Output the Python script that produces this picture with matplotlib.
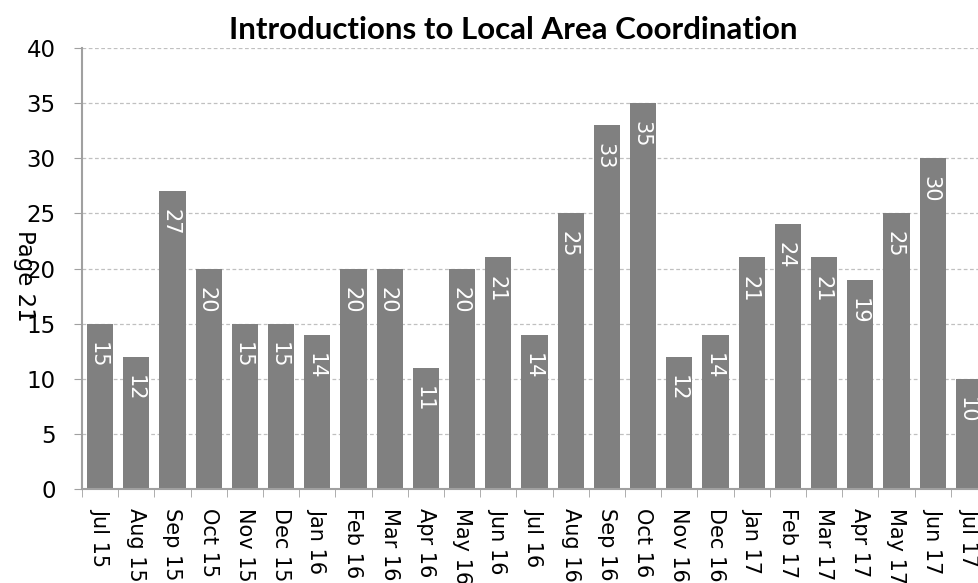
import matplotlib
matplotlib.use("Agg")
import matplotlib.pyplot as plt
import numpy as np

categories = ["Jul 15", "Aug 15", "Sep 15", "Oct 15", "Nov 15", "Dec 15", "Jan 16",
              "Feb 16", "Mar 16", "Apr 16", "May 16", "Jun 16", "Jul 16", "Aug 16",
              "Sep 16", "Oct 16", "Nov 16", "Dec 16", "Jan 17", "Feb 17", "Mar 17",
              "Apr 17", "May 17", "Jun 17", "Jul 17"]
values = [15, 12, 27, 20, 15, 15, 14, 20, 20, 11, 20, 21, 14, 25, 33, 35, 12, 14,
          21, 24, 21, 19, 25, 30, 10]
yticks = [0, 5, 10, 15, 20, 25, 30, 35, 40]
title = "Introductions to Local Area Coordination"

fig = plt.figure(figsize=(9.79, 5.83), dpi=100)
W, H = 979, 583
left, right, bottom, top = 82, 987, 489, 48
ax = fig.add_axes([left / W, 1 - bottom / H, (right - left) / W, (bottom - top) / H])

x = np.arange(len(categories))
ax.bar(x, values, width=0.72, color="#808080", zorder=2)
ax.set_xlim(-0.5, len(categories) - 0.5)
ax.set_ylim(0, 40)
ax.set_yticks(yticks)
ax.tick_params(axis="y", length=6, color="#a0a0a0", direction="out", pad=13)
ax.set_yticklabels([str(t) for t in yticks], family="DejaVu Sans", fontsize=16.5)

ax.set_xticks(x)
ax.set_xticklabels(categories, rotation=-90, fontsize=15, family="DejaVu Sans",
                   va="top", ha="center")
ax.tick_params(axis="x", length=0, pad=14)
ax.set_xticks(np.arange(len(categories) + 1) - 0.5, minor=True)
ax.tick_params(axis="x", which="minor", length=6, color="#a0a0a0", direction="out")

ax.yaxis.grid(True, linestyle=(0, (3, 2)), color="#c0c0c0", linewidth=0.9, zorder=0)
ax.set_axisbelow(True)
for s in ["top", "right"]:
    ax.spines[s].set_visible(False)
ax.spines["left"].set_color("#a0a0a0")
ax.spines["left"].set_linewidth(1.5)
ax.spines["bottom"].set_color("#a0a0a0")
ax.spines["bottom"].set_linewidth(1.5)

for xi, v in zip(x, values):
    ax.annotate(str(v), (xi, v), xytext=(-1.5, -13), textcoords="offset points",
                rotation=-90, ha="center", va="top", color="white", fontsize=15,
                family="DejaVu Sans", zorder=3)

fig.text(513 / W, 1 - 39 / H, title, ha="center", va="baseline", fontsize=22.5,
         fontweight="bold", family="Lato")
fig.text(24 / W, 1 - 276 / H, "Page 21", rotation=-90, ha="center", va="center",
         fontsize=16.5, family="DejaVu Sans")

fig.savefig("out.png", dpi=100)
